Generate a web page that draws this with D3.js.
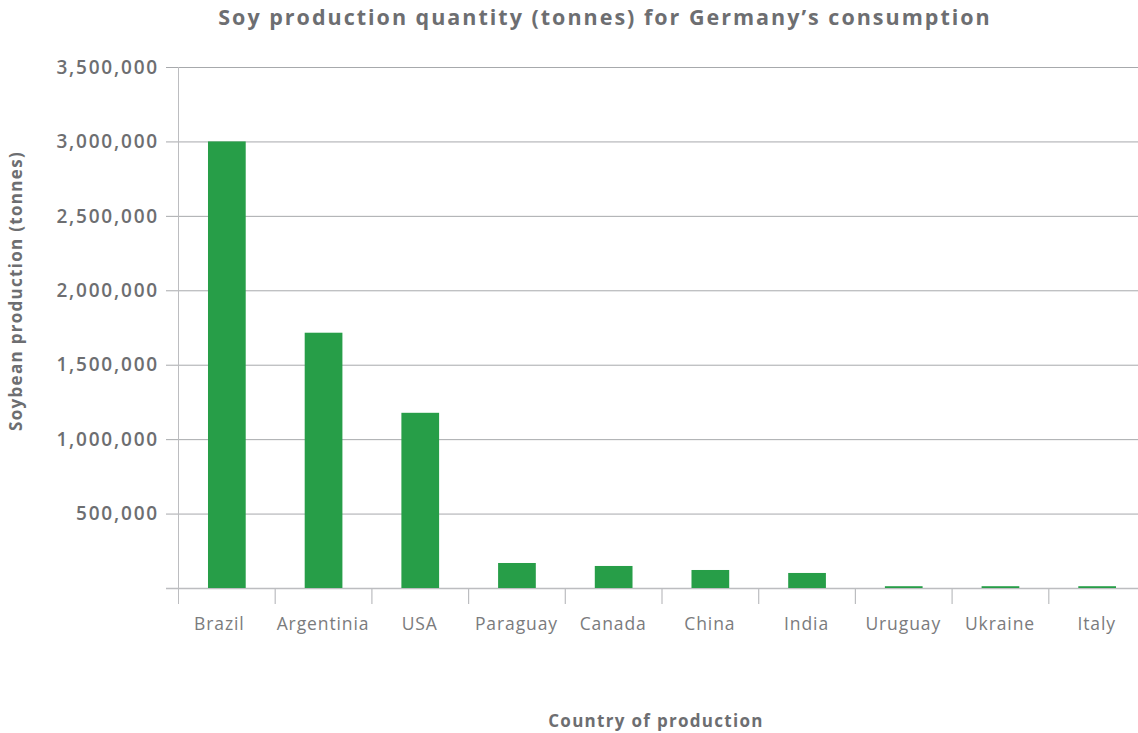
<!DOCTYPE html>
<html>
<head>
<meta charset="utf-8">
<script src="https://cdn.jsdelivr.net/npm/d3@7"></script>
<style>
  body { margin: 0; background: #fff; }
  text { font-family: "Open Sans", sans-serif; fill: #6d6e71; }
  .title { font-weight: 700; font-size: 21.5px; letter-spacing: 2px; }
  .axis-title { font-weight: 700; font-size: 17px; letter-spacing: 1.3px; }
  .ytick { font-size: 19px; font-weight: 600; letter-spacing: 1.8px; }
  .xtick { font-size: 17.5px; font-weight: 400; letter-spacing: 0.9px; fill: #7a7b7d; }
</style>
</head>
<body>
<svg width="1138" height="733"></svg>
<script>
const countries = ["Brazil", "Argentinia", "USA", "Paraguay", "Canada", "China", "India", "Uruguay", "Ukraine", "Italy"]
const tonnes = [3000000, 1715000, 1177000, 168000, 148000, 121000, 101000, 12000, 12000, 12000]
const yTicks = [0, 500000, 1000000, 1500000, 2000000, 2500000, 3000000, 3500000]

const svg = d3.select("svg")
const w = 1138
const h = 733
const margin = { left: 178, top: 67, bottom: 588 }

const x = d3.scaleBand().domain(countries).range([margin.left, margin.left + 96.7 * countries.length])
const y = d3.scaleLinear().domain([0, 3500000]).range([margin.bottom, margin.top])

// gridlines
svg.append("g")
  .selectAll("line.grid")
  .data(yTicks)
  .join("line")
  .attr("x1", 166)
  .attr("x2", w)
  .attr("y1", (d) => y(d) + 0.5)
  .attr("y2", (d) => y(d) + 0.5)
  .attr("stroke", (d) => (d === 0 ? "#bcbdc0" : "#a7a9ac"))
  .attr("stroke-width", (d) => (d === 0 ? 1.5 : 1))

// y axis line
svg.append("line")
  .attr("x1", margin.left + 0.5)
  .attr("x2", margin.left + 0.5)
  .attr("y1", margin.top)
  .attr("y2", margin.bottom + 16)
  .attr("stroke", "#bcbdc0")

// category ticks
svg.append("g")
  .selectAll("line.xtickmark")
  .data(countries.slice(1))
  .join("line")
  .attr("x1", (d) => x(d) + 0.5)
  .attr("x2", (d) => x(d) + 0.5)
  .attr("y1", margin.bottom)
  .attr("y2", margin.bottom + 16)
  .attr("stroke", "#bcbdc0")
  .attr("stroke-width", 1.2)

// bars
const barW = x.bandwidth() * 0.39
svg.append("g")
  .selectAll("rect")
  .data(countries)
  .join("rect")
  .attr("x", (d) => x(d) + x.bandwidth() / 2 - barW / 2 + 0.5)
  .attr("width", barW)
  .attr("y", (d, i) => y(tonnes[i]))
  .attr("height", (d, i) => y(0) - y(tonnes[i]))
  .attr("fill", "#279e48")

// y tick labels
svg.append("g")
  .selectAll("text")
  .data(yTicks.filter((d) => d > 0))
  .join("text")
  .classed("ytick", true)
  .attr("x", 159)
  .attr("y", (d) => y(d))
  .attr("dy", "0.35em")
  .attr("text-anchor", "end")
  .text((d) => d3.format(",")(d))

// x tick labels
svg.append("g")
  .selectAll("text")
  .data(countries)
  .join("text")
  .classed("xtick", true)
  .attr("x", (d, i) => x(d) + x.bandwidth() / 2 + (i === 0 ? -7 : 0))
  .attr("y", 630)
  .attr("text-anchor", "middle")
  .text((d) => d)

svg.append("text")
  .classed("title", true)
  .attr("x", 605)
  .attr("y", 25)
  .attr("text-anchor", "middle")
  .text("Soy production quantity (tonnes) for Germany\u2019s consumption")

svg.append("text")
  .classed("axis-title", true)
  .attr("x", 656)
  .attr("y", 727)
  .attr("text-anchor", "middle")
  .text("Country of production")

svg.append("text")
  .classed("axis-title", true)
  .attr("transform", `translate(22, 291) rotate(-90)`)
  .attr("text-anchor", "middle")
  .text("Soybean production (tonnes)")
</script>
</body>
</html>
